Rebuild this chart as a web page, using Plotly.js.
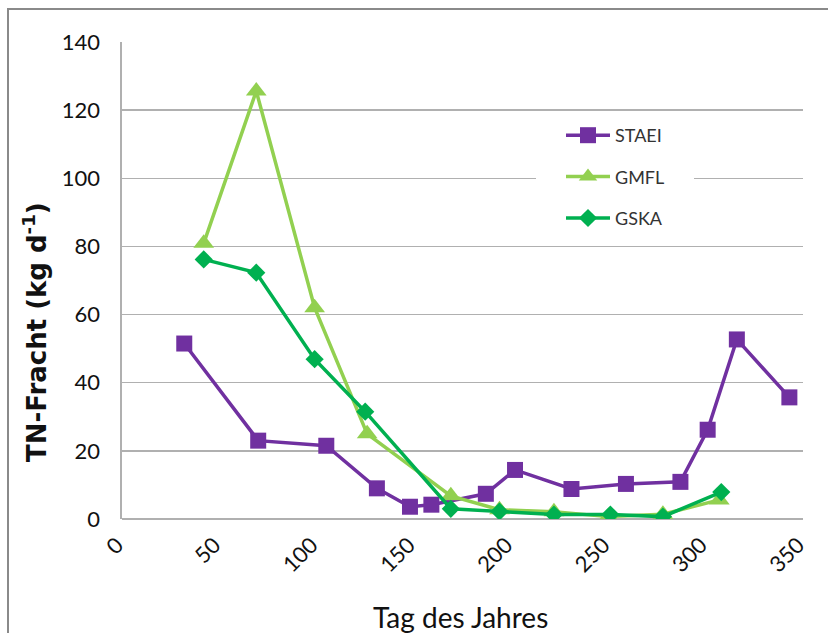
<!DOCTYPE html>
<html>
<head>
<meta charset="utf-8">
<script src="https://cdn.plot.ly/plotly-3.0.1.min.js"></script>
<style>
  html, body { margin: 0; padding: 0; background: #ffffff; overflow: hidden; }
  #chart { width: 828px; height: 633px; position: absolute; left: 0; top: 0; }
  #frame { position: absolute; left: 7px; top: 8px; width: 900px; height: 700px;
           border-left: 2px solid #8a8a8a; border-top: 2px solid #8a8a8a; pointer-events: none; }
</style>
</head>
<body>
<div id="chart"></div>
<div id="frame"></div>
<script>
// Data
const staeiDay = [32, 70, 105, 131, 148, 159, 187, 202, 231, 259, 287, 301, 316, 343];
const staeiTN  = [51.5, 23, 21.5, 9, 3.6, 4.2, 7.4, 14.4, 8.8, 10.3, 10.9, 26.2, 52.7, 35.7];

const gmflDay = [42, 69, 99, 126, 169, 194, 222, 250, 278, 307];
const gmflTN  = [80.9, 125.6, 62, 25, 6.8, 2.7, 2.1, 0.7, 1.4, 5.6];

const gskaDay = [42, 69, 99, 125, 169, 194, 222, 251, 278, 308];
const gskaTN  = [76.2, 72.3, 46.9, 31.5, 3, 2.2, 1.3, 1.3, 0.7, 7.9];

const seriesNames = ["STAEI", "GMFL", "GSKA"];
const xTitle = "Tag des Jahres";
const yTitle = "TN-Fracht (kg d<sup>-1</sup>)";

const FONT = "Lato, 'Open Sans', sans-serif";
const TITLEFONT = "'DejaVu Sans', Lato, sans-serif";

// plot area in pixels (from the reference): left 122, right 803, top 42, bottom 519
const L = 122, R = 803, T = 42, B = 519;
const W = R - L, H = B - T;
const px = v => (v - L) / W;
const py = v => (B - v) / H;

const traces = [
  {
    x: staeiDay, y: staeiTN, name: seriesNames[0], legendgroup: "a",
    mode: "lines+markers", type: "scatter",
    line: { color: "#7030a0", width: 3.5 },
    marker: { symbol: "square", size: 16, color: "#7030a0" }
  },
  {
    x: gmflDay, y: gmflTN, name: seriesNames[1], legendgroup: "b",
    mode: "lines+markers", type: "scatter",
    line: { color: "#92d050", width: 3.5 },
    marker: { symbol: "triangle-up", size: 18, color: "#92d050" }
  },
  {
    x: gskaDay, y: gskaTN, name: seriesNames[2], legendgroup: "c",
    mode: "lines+markers", type: "scatter",
    line: { color: "#00b050", width: 3.5 },
    marker: { symbol: "diamond", size: 14, color: "#00b050" }
  }
];

const layout = {
  width: 828, height: 633,
  margin: { l: L, r: 828 - R, t: T, b: 633 - B },
  paper_bgcolor: "#ffffff", plot_bgcolor: "#ffffff",
  font: { family: FONT, color: "#111111" },
  showlegend: true,
  legend: {
    x: px(561), y: py(117), xanchor: "left", yanchor: "top",
    bgcolor: "rgba(255,255,255,0)", borderwidth: 0,
    font: { family: FONT, size: 18, color: "#333333" },
    tracegroupgap: 15, itemwidth: 44
  },
  xaxis: {
    range: [0, 350], dtick: 50, tick0: 0,
    showgrid: false, zeroline: false,
    showline: false,
    ticks: "", tickangle: -45, ticklabelstandoff: 8, ticklabelshift: -5,
    tickfont: { family: FONT, size: 22, color: "#111111" }
  },
  yaxis: {
    range: [0, 140], dtick: 20, tick0: 0,
    showgrid: true, gridcolor: "#b0b0b0", gridwidth: 1.3,
    zeroline: true, zerolinecolor: "#b0b0b0", zerolinewidth: 1.6,
    showline: true, linecolor: "#b0b0b0", linewidth: 1.6,
    ticks: "", ticklabelstandoff: 16,
    tickfont: { family: FONT, size: 22, color: "#111111" }
  },
  shapes: [
    { type: "rect", xref: "paper", yref: "paper", layer: "above",
      x0: px(536), x1: px(694), y0: py(240), y1: py(118),
      fillcolor: "#ffffff", line: { width: 0 } }
  ],
  annotations: [
    { text: "<b>" + yTitle + "</b>", xref: "paper", yref: "paper",
      x: px(35), y: py(332), xanchor: "center", yanchor: "middle",
      textangle: -90, showarrow: false,
      font: { family: TITLEFONT, size: 26, color: "#111111" } },
    { text: xTitle, xref: "paper", yref: "paper",
      x: px(460), y: py(617), xanchor: "center", yanchor: "middle",
      showarrow: false,
      font: { family: FONT, size: 28, color: "#111111" } }
  ]
};

Plotly.newPlot("chart", traces, layout, { displayModeBar: false, staticPlot: true });
</script>
</body>
</html>
